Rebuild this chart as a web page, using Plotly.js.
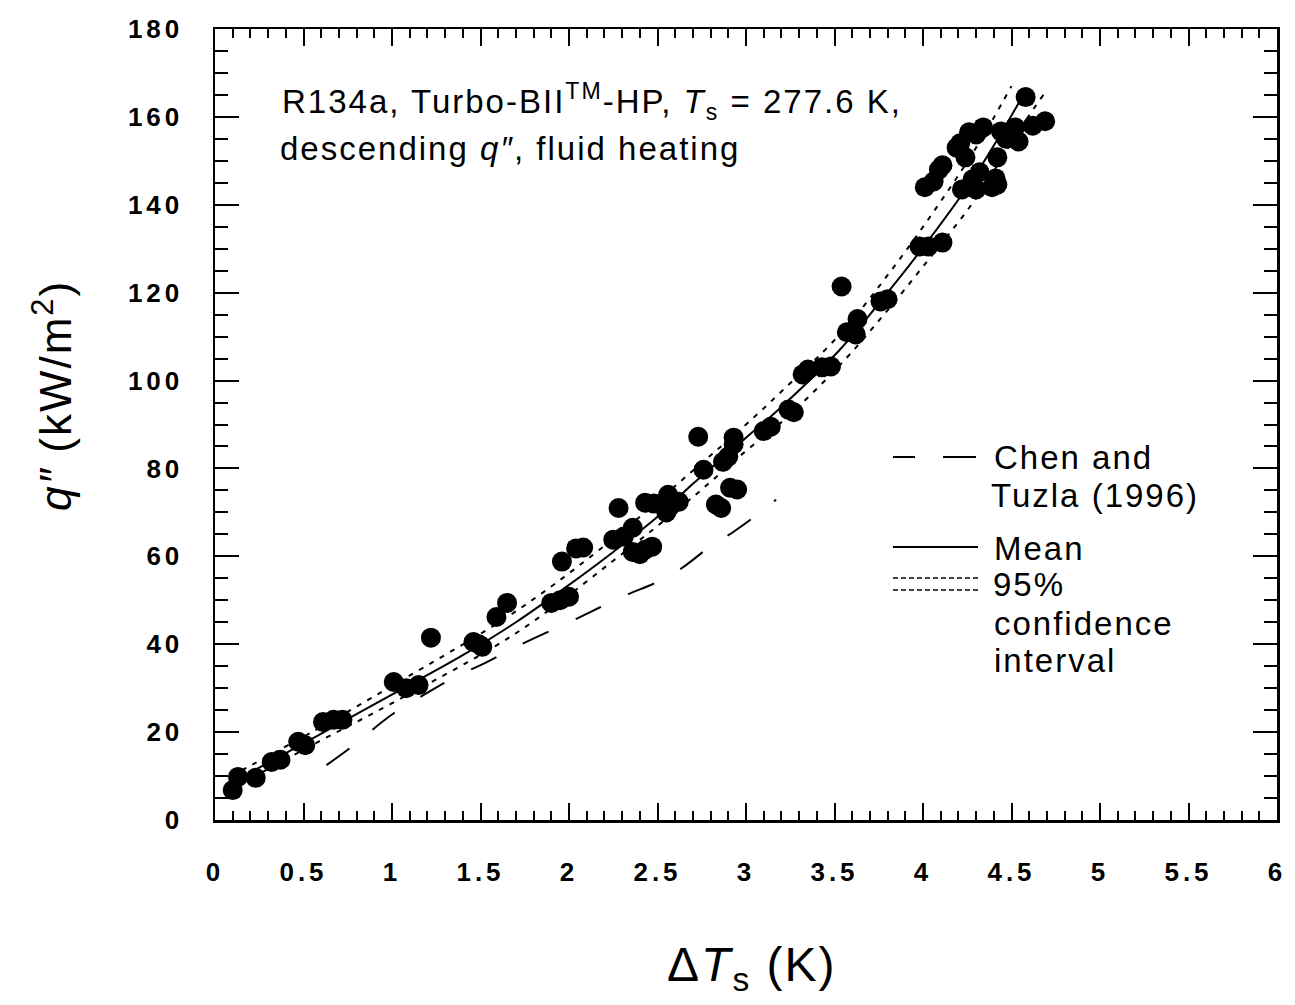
<!DOCTYPE html>
<html>
<head>
<meta charset="utf-8">
<script src="https://cdn.plot.ly/plotly-3.0.1.min.js"></script>
<style>
  body { margin: 0; background: #fff; }
  #chart { width: 1295px; height: 1005px; }
  .xtick text, .ytick text { letter-spacing: 4px; }
  .annotation text { letter-spacing: 2px; }
</style>
</head>
<body>
<div id="chart"></div>
<script>
// ---- Data ----
// Measured points: wall superheat (K) and heat flux (kW/m^2)
var dataDT = [0.10, 0.13, 0.23, 0.32, 0.37, 0.47, 0.51, 0.61, 0.67, 0.72,
              1.01, 1.08, 1.15, 1.22, 1.46, 1.49, 1.51, 1.59, 1.65,
              1.90, 1.95, 2.00, 1.96, 2.04, 2.08,
              2.25, 2.28, 2.31, 2.36, 2.36, 2.40, 2.43, 2.47, 2.43, 2.48,
              2.55, 2.56, 2.57, 2.62, 2.73, 2.76, 2.83, 2.86, 2.87, 2.90,
              2.93, 2.93, 2.91, 2.95, 3.10, 3.14, 3.24, 3.27,
              3.32, 3.35, 3.43, 3.48, 3.54, 3.57, 3.62, 3.63, 3.76, 3.80,
              3.98, 4.03, 4.11,
              4.01, 4.06, 4.09, 4.11, 4.19, 4.21, 4.24, 4.26, 4.30, 4.34,
              4.22, 4.28, 4.30, 4.32, 4.39, 4.42, 4.41, 4.42, 4.44, 4.47,
              4.52, 4.54, 4.58, 4.62, 4.69];
var dataQ  = [6.8, 9.8, 9.6, 13.2, 13.7, 17.8, 17.0, 22.3, 22.8, 22.8,
              31.4, 30.0, 30.7, 41.5, 40.5, 40.0, 39.4, 46.2, 49.4,
              49.4, 50.0, 50.8, 58.8, 61.8, 62.0,
              63.8, 71.0, 64.5, 66.5, 61.0, 60.5, 61.5, 62.2, 72.2, 72.0,
              70.0, 74.0, 71.3, 72.4, 87.2, 79.7, 71.8, 71.0, 81.5, 82.7,
              87.0, 85.5, 75.6, 75.2, 88.5, 89.5, 93.4, 92.8,
              101.4, 102.5, 103.0, 103.2, 121.4, 111.0, 110.5, 114.0, 118.0, 118.5,
              130.5, 130.5, 131.4,
              144.0, 145.3, 148.0, 149.0, 153.0, 154.0, 150.8, 156.5, 156.0, 157.6,
              143.5, 145.8, 143.5, 147.4, 144.0, 144.6, 146.0, 150.8, 156.7, 155.0,
              157.6, 154.4, 164.5, 158.0, 159.0];

// Mean fit curve
var meanDT = [0.09, 0.30, 0.57, 1.02, 1.40, 1.70, 2.00, 2.25, 2.50, 2.70, 3.00, 3.20, 3.53, 3.81, 4.07, 4.30, 4.56];
var meanQ  = [8.5, 13.0, 19.0, 29.0, 37.5, 45.0, 53.5, 61.0, 69.0, 76.5, 87.0, 94.0, 107.0, 120.5, 134.0, 147.0, 164.5];

// 95% confidence interval bounds
var upperDT = [0.09, 0.57, 1.02, 1.70, 2.25, 2.70, 3.00, 3.20, 3.53, 3.81, 4.07, 4.30, 4.50];
var upperQ  = [10.0, 20.5, 31.0, 47.5, 64.0, 79.5, 90.0, 97.5, 110.5, 124.5, 139.0, 153.0, 167.0];
var lowerDT = [0.09, 0.57, 1.02, 1.70, 2.25, 2.70, 3.00, 3.20, 3.53, 3.81, 4.07, 4.30, 4.56, 4.68];
var lowerQ  = [7.0, 17.5, 27.0, 42.5, 59.0, 73.5, 84.0, 90.5, 103.5, 116.5, 129.5, 141.5, 158.0, 165.0];

// Chen and Tuzla (1996) correlation
var chenDT = [0.63, 0.77, 1.00, 1.21, 1.36, 1.53, 1.69, 2.00, 2.17, 2.33, 2.50, 2.64, 2.79, 2.93, 3.08, 3.17];
var chenQ  = [12.5, 16.6, 24.0, 29.2, 32.6, 35.8, 39.2, 45.0, 48.3, 51.3, 54.2, 57.4, 62.0, 65.6, 70.0, 72.9];

// Tick values / labels
var xTickVals = [0, 0.5, 1, 1.5, 2, 2.5, 3, 3.5, 4, 4.5, 5, 5.5, 6];
var xTickText = ["0", "0.5", "1", "1.5", "2", "2.5", "3", "3.5", "4", "4.5", "5", "5.5", "6"];
var yTickVals = [0, 20, 40, 60, 80, 100, 120, 140, 160, 180];
var yTickText = ["0", "20", "40", "60", "80", "100", "120", "140", "160", "180"];

// ---- Layout helpers (pixel -> paper for decorations) ----
var W = 1295, H = 1005;
var M = {l: 215, r: 18, t: 29, b: 185};
var PW = W - M.l - M.r, PH = H - M.t - M.b;
function px(x) { return (x - M.l) / PW; }
function py(y) { return (H - M.b - y) / PH; }

var FONT = "Liberation Sans, Arial, Helvetica, sans-serif";

var traces = [
  {x: chenDT, y: chenQ, mode: "lines", type: "scatter",
   line: {color: "black", width: 2, dash: "28px,30px", shape: "spline"}, hoverinfo: "skip"},
  {x: upperDT, y: upperQ, mode: "lines", type: "scatter",
   line: {color: "black", width: 2, dash: "5px,7px", shape: "spline"}, hoverinfo: "skip"},
  {x: lowerDT, y: lowerQ, mode: "lines", type: "scatter",
   line: {color: "black", width: 2, dash: "5px,7px", shape: "spline"}, hoverinfo: "skip"},
  {x: meanDT, y: meanQ, mode: "lines", type: "scatter",
   line: {color: "black", width: 2, shape: "spline"}, hoverinfo: "skip"},
  {x: dataDT, y: dataQ, mode: "markers", type: "scatter",
   marker: {color: "black", size: 20, line: {width: 0}}}
];

// centre-anchored text (centre x in pixels, centre y in pixels)
function ann(text, x, y, size, extra) {
  var a = {text: text, x: px(x), y: py(y), xref: "paper", yref: "paper",
           xanchor: "center", yanchor: "middle", showarrow: false,
           font: {family: FONT, size: size, color: "black"}};
  if (extra) for (var k in extra) a[k] = extra[k];
  return a;
}

var annotations = [
  ann("R134a, Turbo-BII<sup>TM</sup>-HP, <i>T</i><sub>s</sub> = 277.6 K,", 592, 101, 33),
  ann("descending <i>q″</i>, fluid heating", 510, 149, 33),
  ann("Chen and", 1073, 457, 33),
  ann("Tuzla (1996)", 1095, 495, 33),
  ann("Mean", 1039, 548, 33),
  ann("95%", 1029, 584, 33),
  ann("confidence", 1084, 623, 33),
  ann("interval", 1055, 660, 33),
  // axis titles
  ann("Δ<i>T</i><sub>s</sub> (K)", 752, 968, 48),
  ann("<i>q″</i> (kW/m<sup>2</sup>)", 52, 396, 44, {textangle: -90})
];

function hline(x0, x1, y, dash, width) {
  return {type: "line", xref: "paper", yref: "paper",
          x0: px(x0), x1: px(x1), y0: py(y), y1: py(y),
          line: {color: "black", width: width, dash: dash}};
}
var shapes = [
  hline(893, 915, 457, "solid", 2),
  hline(943, 976, 457, "solid", 2),
  hline(893, 978, 547, "solid", 2),
  hline(893, 980, 578, "5px,3px", 1.5),
  hline(893, 980, 590, "5px,3px", 1.5)
];

var axisCommon = {
  showline: true, linecolor: "black", linewidth: 2.5, mirror: "allticks",
  ticks: "inside", tickcolor: "black", tickwidth: 2,
  showgrid: false, zeroline: false, tickmode: "array",
  tickfont: {family: FONT, size: 26, color: "black", weight: "bold"}
};

var layout = {
  width: W, height: H,
  margin: M,
  paper_bgcolor: "white", plot_bgcolor: "white",
  showlegend: false,
  xaxis: Object.assign({}, axisCommon, {
    range: [0, 6], tickvals: xTickVals, ticktext: xTickText, ticklen: 17,
    ticklabelstandoff: 27,
    minor: {dtick: 0.1, ticks: "inside", ticklen: 9, tickwidth: 2, tickcolor: "black", showgrid: false}
  }),
  yaxis: Object.assign({}, axisCommon, {
    range: [0, 180], tickvals: yTickVals, ticktext: yTickText, ticklen: 24,
    ticklabelstandoff: 24,
    minor: {dtick: 5, ticks: "inside", ticklen: 13, tickwidth: 2, tickcolor: "black", showgrid: false}
  }),
  annotations: annotations,
  shapes: shapes
};

Plotly.newPlot("chart", traces, layout, {staticPlot: true});
</script>
</body>
</html>
